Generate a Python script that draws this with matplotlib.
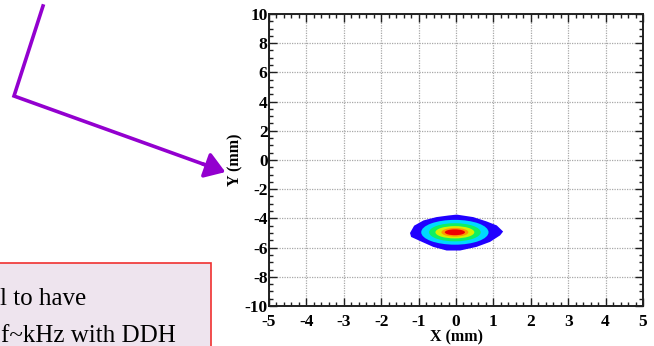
import numpy as np
import matplotlib
matplotlib.use("Agg")
import matplotlib.pyplot as plt
from matplotlib.patches import Polygon, Ellipse, Rectangle, FancyArrowPatch
from matplotlib.lines import Line2D
import matplotlib.ticker as mticker

plt.rcParams["axes.unicode_minus"] = False

# beam spot: outer (blue) contour, in mm
OUTER_X = [-1.23, -1.12, -0.87, -0.52, -0.20, 0.02, 0.46, 0.82, 1.09, 1.26,
           1.18, 0.91, 0.55, 0.11, -0.25, -0.61, -0.96, -1.20]
OUTER_Y = [-5.00, -4.50, -4.14, -3.91, -3.80, -3.74, -3.91, -4.21, -4.48, -4.90,
           -5.16, -5.61, -5.95, -6.20, -6.20, -5.95, -5.55, -5.27]

# inner colour bands: centre and semi-axes (mm)
SPOT_CX, SPOT_CY = -0.03, -4.95
BAND_HALF_W = [0.90, 0.69, 0.52, 0.36, 0.27]
BAND_HALF_H = [0.85, 0.62, 0.42, 0.30, 0.20]
BAND_COLORS = ["#2000FF", "#00D8FF", "#10F060", "#D8F000", "#FF9800", "#F00000"]

X_TICKS = np.arange(-5, 6, 1)
Y_TICKS = np.arange(-10, 11, 2)

W, H = 654, 346
PURPLE = "#9300CF"
SERIF = ["Liberation Serif", "DejaVu Serif"]

fig = plt.figure(figsize=(W / 100, H / 100), dpi=100, facecolor="white")
ax = fig.add_axes([269 / W, 1 - 306 / H, 374 / W, 292 / H])

ax.add_patch(Polygon(np.column_stack([OUTER_X, OUTER_Y]), closed=True,
                     facecolor=BAND_COLORS[0], edgecolor="none", zorder=3))
for hw, hh, c in zip(BAND_HALF_W, BAND_HALF_H, BAND_COLORS[1:]):
    ax.add_patch(Ellipse((SPOT_CX, SPOT_CY), 2 * hw, 2 * hh, facecolor=c,
                         edgecolor="none", zorder=3))

ax.set_xlim(-5, 5)
ax.set_ylim(-10, 10)
ax.set_xticks(X_TICKS)
ax.set_yticks(Y_TICKS)
ax.xaxis.set_minor_locator(mticker.MultipleLocator(0.2))
ax.yaxis.set_minor_locator(mticker.MultipleLocator(0.5))
ax.grid(which="major", color="#a8a8a8", linestyle=(0, (1, 1)), linewidth=0.9, zorder=1)
ax.tick_params(which="both", direction="in", top=True, right=True, color="#202020", width=1.0)
ax.tick_params(which="major", length=6, labelsize=12.5)
ax.tick_params(axis="x", which="major", pad=5.5)
ax.tick_params(axis="y", which="major", pad=1)
ax.tick_params(which="minor", length=3)
for sp in ax.spines.values():
    sp.set_linewidth(1.4)
    sp.set_color("#202020")
for lab in ax.get_xticklabels() + ax.get_yticklabels():
    lab.set_family(SERIF)
    lab.set_fontweight("bold")
ax.set_xlabel("X (mm)", family=SERIF, fontweight="bold", fontsize=11.5, labelpad=0)
ax.set_ylabel("Y (mm)", family=SERIF, fontweight="bold", fontsize=11.5, labelpad=1)

# purple pointer arrow (figure pixel coordinates)
def fx(px):
    return px / W

def fy(py):
    return 1 - py / H

fig.add_artist(Line2D([fx(43), fx(14), fx(214)], [fy(6), fy(96), fy(168)],
                      color=PURPLE, lw=2.6, solid_joinstyle="miter",
                      transform=fig.transFigure))
fig.add_artist(FancyArrowPatch((fx(200), fy(163)), (fx(228), fy(173)),
                               transform=fig.transFigure, color=PURPLE,
                               arrowstyle="-|>,head_length=6,head_width=4",
                               lw=2.6, mutation_scale=2))

# clipped text box from the slide
fig.add_artist(Rectangle((fx(-5), fy(350)), fx(216), fy(263) - fy(350),
                         transform=fig.transFigure, facecolor="#EEE4EE",
                         edgecolor="#F03030", lw=1.2))
fig.text(fx(0), fy(305), "l to have", family=SERIF, fontsize=18, color="black",
         va="baseline", ha="left")
fig.text(fx(1), fy(342), "f~kHz with DDH", family=SERIF, fontsize=18, color="black",
         va="baseline", ha="left")

fig.savefig("out.png", dpi=100, facecolor="white")
